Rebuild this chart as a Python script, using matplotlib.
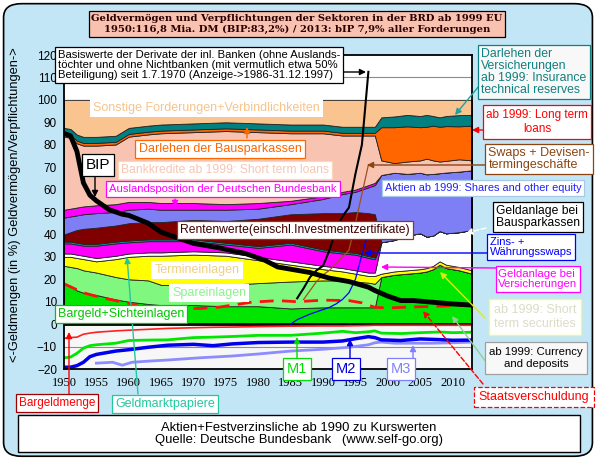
import matplotlib.pyplot as plt
from matplotlib.patches import FancyBboxPatch, Rectangle

# ---- data (shares in % of all claims) ----
years = [1950, 1951, 1952, 1953, 1955, 1958, 1960, 1963, 1965, 1970, 1975, 1980, 1985, 1990,
         1993, 1995, 1997, 1998, 1999, 2001, 2003, 2005, 2006, 2007, 2008, 2009, 2011, 2013]

# upper edge of each stacked band (cumulative), bottom to top
top_bargeld = [18, 17, 15, 14, 13, 11, 10, 9, 8.5, 8.5, 8, 8, 7, 7.5,
               7.5, 7.5, 7.5, 7.5, 21, 22, 22.5, 23, 23.5, 24.5, 26.5, 25, 24, 22.5]
top_spar = [26, 25.5, 25, 24, 23, 21, 20, 19.5, 17.5, 17.5, 17.5, 18.3, 19, 19.5,
            19.5, 19, 18.5, 18, 21, 22, 22.5, 23, 23.5, 24.5, 26.5, 25, 24, 22.5]
top_termin = [30, 30, 29.5, 29, 28, 29, 30, 30.5, 30.5, 31, 30.5, 28.5, 26.5, 24.5,
              23.5, 22.5, 21.5, 21.5, 22.5, 23.5, 24, 24.5, 25, 26, 28, 26.5, 25.5, 24]
top_geldmarkt = [31.5, 31.5, 31, 30.5, 29.5, 30.5, 31.5, 32, 32, 32.5, 32, 30, 28, 26,
                 25, 24, 23, 23, 36.5, 37.5, 39.5, 40.5, 39, 39.5, 41.5, 40.5, 41, 42]
top_versich = [36, 36, 35.5, 35, 35, 36, 36.5, 37, 37, 37, 35.5, 34, 35.5, 32.5,
               31.5, 31, 29.5, 29, 36.5, 37.5, 39.5, 40.5, 39, 39.5, 41.5, 40.5, 41, 42]
top_swap = [36.8, 36.8, 36.3, 35.8, 35.8, 36.8, 37.3, 37.8, 37.8, 37.8, 36.3, 34.8, 36.3, 33.3,
            32.3, 31.8, 30.3, 29.8, 36.5, 37.5, 39.5, 40.5, 39, 39.5, 41.5, 40.5, 41, 42]
top_renten = [40, 41, 42, 42.5, 43, 44, 45, 45.5, 45.5, 46.5, 46, 47, 49, 49.5,
              49.5, 50, 49.5, 49, 36.5, 37.5, 39.5, 40.5, 39, 39.5, 41.5, 40.5, 41, 42]
top_aktien = [47.5, 48, 48.5, 49, 49.5, 50, 51, 51.5, 51, 51, 51, 51.5, 53.5, 55.8,
              58, 59, 61, 62, 66.5, 67.5, 67, 67.5, 66.8, 67, 67.3, 67.6, 68, 68.6]
top_ausland = [51, 51.5, 52, 52.5, 53, 53.5, 54.5, 54.5, 54, 54, 53.5, 54, 55, 57,
               59, 60, 62, 63, 66.5, 67.5, 67, 67.5, 66.8, 67, 67.3, 67.6, 68, 68.6]
top_bankkredit = [83.6, 83.1, 80.6, 79.6, 79.6, 80.1, 83.6, 84.6, 85.1, 85.6, 86.1, 85.6, 85.1, 85.1,
                  84.1, 84.1, 84.1, 84.1, 73, 71.8, 72.5, 73, 73.8, 73, 72.5, 72.8, 73.5, 73]
top_bauspar = [84.8, 84.3, 81.8, 80.8, 80.8, 81.3, 84.8, 85.8, 86.3, 86.8, 87.3, 86.8, 86.3, 86.3,
               85.3, 85.3, 85.3, 85.3, 87.8, 87.8, 88.2, 87.8, 88, 88.5, 88, 88.3, 88.2, 88.5]
top_versdarl = [87.5, 87, 84.5, 83.5, 83.5, 84, 87.5, 88.5, 89, 89.5, 90, 89.5, 89, 89,
                88, 88, 88, 88, 92.2, 92.6, 93.3, 92.8, 93.3, 92.8, 92.2, 92.8, 93.2, 93.3]
top_sonstige = [100] * len(years)

band_tops = [top_bargeld, top_spar, top_termin, top_geldmarkt, top_versich, top_swap, top_renten,
             top_aktien, top_ausland, top_bankkredit, top_bauspar, top_versdarl, top_sonstige]
band_colors = ['#00e600', '#80f880', '#ffff00', '#ffffff', '#ff00ff', '#00a0a0', '#800000',
               '#7f7ff5', '#ff00ff', '#f9c3b2', '#ff6600', '#008080', '#f9c48f']

# lines
bip_years = [1950, 1951, 1952, 1953, 1954, 1955, 1957, 1959, 1960, 1963, 1965, 1968, 1970, 1974,
             1978, 1981, 1983, 1986, 1988, 1991, 1994, 1997, 1998, 2000, 2002, 2004, 2006, 2008,
             2010, 2013]
bip = [85, 84, 77, 63, 57.5, 55, 51, 49, 48.5, 45, 41, 38, 36, 34,
       31.5, 28.5, 25.5, 24, 23, 20.5, 19, 16.5, 15, 12.5, 10.5, 10.5, 10, 9.5,
       9, 8.5]

staat_years = [1950, 1953, 1955.5, 1960, 1962, 1967, 1971, 1974, 1979, 1983, 1986, 1990, 1994,
               1996, 1998, 2000, 2003, 2008, 2013]
staat = [18, 14, 12, 9.3, 7.6, 7, 7, 7.6, 9.8, 10.5, 10, 10.7, 10.5,
         9.5, 7.5, 7.2, 7.6, 8, 8.5]

deriv_years = [1986, 1987, 1988, 1989, 1990, 1991, 1992, 1993, 1994, 1995, 1996, 1997]
derivate = [11.5, 16, 21, 24, 26, 33, 42, 48, 52, 67, 80, 112.5]
devisen_years = [1987, 1988, 1989, 1990, 1991, 1992, 1993, 1994, 1995, 1996, 1997]
devisen = [11, 15, 19, 22, 24, 27, 30, 33, 45, 58, 71]
zins_years = [1985, 1986, 1988, 1990, 1991, 1992, 1993, 1994, 1995, 1996, 1997]
zinsswaps = [0, 2, 4.5, 6.5, 7.5, 9, 11, 14, 20, 31, 41]

# money aggregates (negative side)
m_years = [1950, 1951, 1952, 1953, 1954, 1955, 1958, 1960, 1963, 1966, 1970, 1973, 1976, 1980,
           1985, 1990, 1993, 1995, 1997, 1998, 1999, 2002, 2005, 2008, 2010, 2013]
bargeldmenge = [-6.3, -6, -5.8, -4.5, -4, -3.6, -3, -2.7, -2.3, -1.9, -1.6, -1.4, -1.3, -1.1,
                -0.9, -0.8, -0.8, -0.7, -0.6, -0.5, -0.5, -0.5, -0.5, -0.5, -0.5, -0.5]
m1 = [-15, -14.7, -13, -10.7, -9.6, -9.2, -8.5, -7.3, -7.1, -7, -6, -5.8, -5.5, -5,
      -5, -4, -3.2, -3.8, -3.4, -3, -4, -4.2, -3.8, -3.5, -3.8, -3.6]
m2 = [-19.2, -19.2, -18.5, -17, -14.5, -13.5, -12, -11.4, -10.3, -9.4, -9, -9.6, -8.8, -8.2,
      -8, -8, -7.5, -6.5, -5.6, -6, -7, -7.3, -6.6, -6.9, -7.2, -7.1]
m3_years = [1955, 1957.5, 1959, 1960.5, 1963, 1966, 1971, 1976, 1980, 1985, 1990, 1994, 1997,
            1998, 1999, 2001, 2004, 2007, 2010, 2013]
m3 = [-17.4, -17, -18.3, -17, -16.5, -16, -15, -14.2, -13.3, -12, -11.2, -10.3, -9.2,
      -8.3, -8, -8.5, -8.5, -8.5, -8.3, -8]

W, H = 596, 459
SANS = 'Liberation Sans'


def fx(px):
    return px / W


def fy(py):
    return 1 - py / H


fig = plt.figure(figsize=(W / 100, H / 100), dpi=100)
fig.patch.set_facecolor('white')
frame = FancyBboxPatch((0.006, 0.006), 0.988, 0.986, boxstyle='round,pad=0,rounding_size=0.03',
                       transform=fig.transFigure, fc='#c3e6f7', ec='black', lw=1.2, zorder=-10)
fig.patches.append(frame)
# frame of the source note at the bottom
fig.patches.append(Rectangle((fx(18), fy(452)), (580 - 18) / W, (452 - 415) / H,
                             transform=fig.transFigure, fc='white', ec='black', lw=1.0, zorder=-5))

ax = fig.add_axes([fx(64), fy(369), (472 - 64) / W, (369 - 55) / H])
ax.set_facecolor('white')
ax.set_xlim(1950, 2013)
ax.set_ylim(-20, 120)
ax.axhspan(-20, 0, color='#f7f7f7', zorder=0)
for v in range(-10, 120, 10):
    ax.axhline(v, color='#8c8c8c', lw=0.8, zorder=0.6)

# stacked areas
lower = [0] * len(years)
for tops, c in zip(band_tops, band_colors):
    ax.fill_between(years, lower, tops, facecolor=c, edgecolor='#222222', lw=0.6, zorder=1)
    lower = tops

ax.axhline(0, color='black', lw=2, zorder=4)

ax.plot(staat_years, staat, color='#ff1010', lw=2, dashes=(5, 3), zorder=5)
ax.plot(zins_years, zinsswaps, color='#0000ff', lw=0.9, zorder=5)
ax.plot(devisen_years, devisen, color='#a0501e', lw=0.9, zorder=5)
ax.plot(deriv_years, derivate, color='black', lw=1.5, zorder=5)
ax.plot(bip_years, bip, color='black', lw=3.5, zorder=6)

ax.plot(m_years, bargeldmenge, color='#ff2020', lw=1.2, zorder=5)
ax.plot(m_years, m1, color='#00e600', lw=2, zorder=5)
ax.plot(m3_years, m3, color='#8c8cff', lw=2, zorder=5)
ax.plot(m_years, m2, color='#0000ee', lw=2.5, zorder=5)

for s in ax.spines.values():
    s.set_color('black')
    s.set_linewidth(1.3)
    s.set_zorder(7)

ax.set_yticks(range(-20, 121, 10))
ax.set_xticks(range(1950, 2011, 5))
ax.tick_params(length=0)
ax.tick_params(axis='y', pad=5)
ax.tick_params(axis='x', pad=6)
for t in ax.get_yticklabels():
    t.set_fontfamily(SANS)
    t.set_fontsize(8.5)
for t in ax.get_xticklabels():
    t.set_fontfamily('Liberation Serif')
    t.set_fontsize(9)

fig.text(fx(15), fy(205), '<-Geldmengen (in %) Geldvermögen/Verpflichtungen->', rotation=90,
         ha='center', va='center', fontsize=9.3, family=SANS)


def label(cx, cy, s, color, ec='none', fc='white', size=8, align='center', ls='-', pad=0.25,
          family=SANS, **kw):
    return fig.text(fx(cx), fy(cy), s, color=color, fontsize=size, family=family, ha='center',
                    va='center', multialignment=align, zorder=10,
                    bbox=dict(boxstyle=f'square,pad={pad}', fc=fc, ec=ec, lw=0.9, ls=ls), **kw)


def arrow(x0, y0, x1, y1, color, ls='-', lw=1.0):
    ax.annotate('', xy=(fx(x1), fy(y1)), xytext=(fx(x0), fy(y0)),
                xycoords='figure fraction', textcoords='figure fraction',
                arrowprops=dict(arrowstyle='-|>', color=color, lw=lw, ls=ls, mutation_scale=9,
                                shrinkA=0, shrinkB=0),
                annotation_clip=False, zorder=8)


# title
label(297, 24, 'Geldvermögen und Verpflichtungen der Sektoren in der BRD ab 1999 EU\n'
      '1950:116,8 Mia. DM (BIP:83,2%) / 2013: bIP 7,9% aller Forderungen',
      '#2a0000', ec='black', fc='#f9c2b0', size=7.2, family='DejaVu Serif', weight='bold',
      linespacing=1.3)

# labels inside / around the plot
label(199, 65, 'Basiswerte der Derivate der inl. Banken (ohne Auslands-\n'
      'töchter und ohne Nichtbanken (mit vermutlich etwa 50%\n'
      'Beteiligung) seit 1.7.1970 (Anzeige->1986-31.12.1997)', 'black', ec='black',
      size=8.1, align='left', linespacing=1.0)
arrow(340, 72, 366, 72, 'black')

label(206, 108, 'Sonstige Forderungen+Verbindlichkeiten', '#f6c48e', size=9)
label(220, 149, 'Darlehen der Bausparkassen', '#ff6600', ec='#ff6600', size=9)
arrow(247, 138, 247, 127, '#ff6600')
label(98, 165, 'BIP', 'black', ec='black', size=11)
arrow(95, 177, 95, 197, 'black')
label(225, 170, 'Bankkredite ab 1999: Short term loans', '#f6c6b4', ec='#f8d8b8', size=8.7)
label(223, 189, 'Auslandsposition der Deutschen Bundesbank', '#ff00ff', ec='#ff00ff', size=8.1)
arrow(175, 199, 175, 207, '#ff00ff')
label(295, 230, 'Rentenwerte(einschl.Investmentzertifikate)', '#400000', ec='#8b3a1a', size=8.7)
label(197, 270, 'Termineinlagen', '#f0d080', size=9)
label(209, 293, 'Spareinlagen', '#90f090', size=9)
label(121, 314, 'Bargeld+Sichteinlagen', '#00c800', ec='#00c800', size=9)

label(57, 403, 'Bargeldmenge', '#ff0000', ec='#a00000', size=8.5)
arrow(69, 394, 69, 332, '#ff0000')
label(165, 404, 'Geldmarktpapiere', '#20c8a0', ec='#20c8a0', size=9)
arrow(138, 394, 127, 257, '#20c8a0')
label(297, 369, 'M1', '#00dd00', ec='#00dd00', size=10.5)
arrow(297, 358, 297, 337, '#00dd00')
label(346, 369, 'M2', '#0000dd', ec='#0000dd', size=10.5)
arrow(350, 358, 350, 339, '#0000dd')
label(401, 369, 'M3', '#8080ff', ec='#8080ff', size=10.5)
arrow(413, 358, 413, 345, '#8080ff')

fig.text(fx(299), fy(434), 'Aktien+Festverzinsliche ab 1990 zu Kurswerten\n'
         'Quelle: Deutsche Bundesbank   (www.self-go.org)', color='black', fontsize=9.4,
         family=SANS, ha='center', va='center', linespacing=1.05)

# right-hand side labels
label(534, 72, 'Darlehen der\nVersicherungen\nab 1999: Insurance\ntechnical reserves', '#108080',
      ec='#108080', fc='#f8f8f8', size=8.8, align='left', linespacing=1.0)
arrow(484, 80, 455, 115, '#20a0a0')
label(537, 122, 'ab 1999: Long term\nloans', '#ff0000', ec='#ff0000', size=8.5, linespacing=1.3,
      pad=0.3)
arrow(486, 130, 472, 130, '#ff0000')
label(539, 159, 'Swaps + Devisen-\ntermingeschäfte', '#8b4513', ec='#8b4513', size=9,
      align='left', linespacing=1.05)
arrow(486, 165, 367, 165, '#8b4513')
label(483, 188, 'Aktien ab 1999: Shares and other equity', '#2020ff', ec='#a8c8e8', size=7.9)
label(538, 217, 'Geldanlage bei\nBausparkassen', 'black', ec='black', size=8.7, align='left',
      linespacing=1.05)
arrow(486, 228, 466, 233, 'white', ls='--')
label(531, 247, 'Zins- +\nWährungsswaps', '#0000ff', ec='#0000ff', size=8, align='left',
      linespacing=1.05)
arrow(487, 253, 364, 253, '#0000ff')
label(538, 279, 'Geldanlage bei\nVersicherungen', '#ff00ff', ec='#ff00ff', size=8.2,
      align='left', linespacing=1.05)
arrow(496, 268, 381, 267, '#ff00ff')
label(535, 317, 'ab 1999: Short\nterm securities', '#dcdcc8', ec='#ffff40', size=9,
      align='left', linespacing=1.3, pad=0.4)
arrow(485, 318, 440, 272, '#e8e800')
label(536, 358, 'ab 1999: Currency\nand deposits', 'black', ec='#a0a0a0', fc='#f8f8f8', size=8.2,
      linespacing=1.3, pad=0.4)
arrow(489, 366, 452, 316, '#90d090')
label(534, 397, 'Staatsverschuldung', '#ff0000', ec='#ff0000', size=9, ls='--', pad=0.35)
arrow(483, 384, 423, 311, '#ff0000', ls='--')

fig.savefig('out.png', dpi=100)
